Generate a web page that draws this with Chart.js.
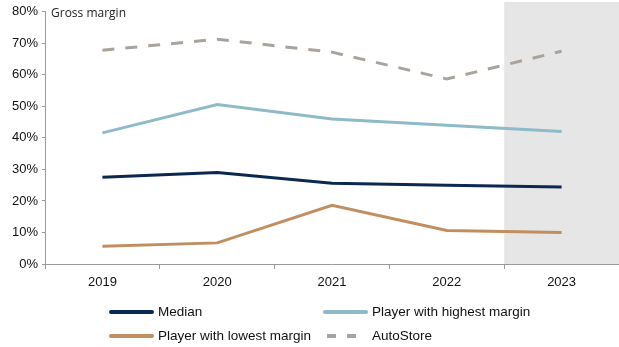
<!DOCTYPE html>
<html>
<head>
<meta charset="utf-8">
<script src="https://cdn.jsdelivr.net/npm/chart.js@4/dist/chart.umd.min.js"></script>
<style>
  html, body { margin: 0; padding: 0; background: #fff; }
  #wrap { width: 619px; height: 347px; position: relative; }
</style>
</head>
<body>
<div id="wrap"><canvas id="marginChart"></canvas></div>
<script>
const years = ['2019', '2020', '2021', '2022', '2023'];
const medianValues = [27.5, 29.0, 25.6, 25.0, 24.4];
const highestValues = [41.6, 50.6, 46.0, 44.0, 42.0];
const lowestValues = [5.6, 6.7, 18.6, 10.6, 10.0];
const autoStoreValues = [67.8, 71.3, 67.2, 58.7, 67.5];
const yTicks = [0, 10, 20, 30, 40, 50, 60, 70, 80];

const baseFont = { family: '"Liberation Sans", Arial, sans-serif', size: 13 };

// grey band behind the last year + the "Gross margin" caption
const shadePlugin = {
    id: 'shade',
    beforeDatasetsDraw(chart) {
        const ctx = chart.ctx;
        const x = chart.scales.x;
        const area = chart.chartArea;
        const half = (x.getPixelForValue(1) - x.getPixelForValue(0)) / 2;
        const left = x.getPixelForValue(4) - half;
        ctx.save();
        ctx.fillStyle = '#e6e6e6';
        ctx.fillRect(left, 2, area.right - left, area.bottom - 2);
        ctx.restore();
    },
    afterDraw(chart) {
        const ctx = chart.ctx;
        ctx.save();
        ctx.fillStyle = '#222';
        ctx.font = '12px "Open Sans", sans-serif';
        ctx.textBaseline = 'middle';
        ctx.fillText('Gross margin', chart.chartArea.left + 6, 14);

        // legend, two columns
        const items = chart.data.datasets;
        const cols = [109, 323];
        const rows = [312, 336];
        ctx.font = '13.5px "Liberation Sans", Arial, sans-serif';
        items.forEach(function(ds, i) {
            const lx = cols[i % 2];
            const ly = rows[Math.floor(i / 2)];
            ctx.strokeStyle = ds.borderColor;
            ctx.lineWidth = 4;
            ctx.beginPath();
            if (ds.borderDash) {
                ctx.lineCap = 'butt';
                ctx.setLineDash([9, 11]);
                ctx.moveTo(lx + 4, ly);
                ctx.lineTo(lx + 36, ly);
            } else {
                ctx.lineCap = 'round';
                ctx.setLineDash([]);
                ctx.moveTo(lx + 2, ly);
                ctx.lineTo(lx + 43, ly);
            }
            ctx.stroke();
            ctx.setLineDash([]);
            ctx.fillStyle = '#111';
            ctx.fillText(ds.label, lx + 49, ly);
        });
        ctx.restore();
    }
};

const ctx = document.getElementById('marginChart').getContext('2d');
new Chart(ctx, {
    type: 'line',
    data: {
        labels: years,
        datasets: [
            { label: 'Median', data: medianValues, borderColor: '#0b2850' },
            { label: 'Player with highest margin', data: highestValues, borderColor: '#8ebac9' },
            { label: 'Player with lowest margin', data: lowestValues, borderColor: '#c18e60' },
            { label: 'AutoStore', data: autoStoreValues, borderColor: '#aaa39c', borderDash: [12, 11] }
        ].map(function(ds) {
            return Object.assign({ borderWidth: 3, pointRadius: 0, tension: 0, fill: false }, ds);
        })
    },
    options: {
        responsive: true,
        maintainAspectRatio: false,
        animation: false,
        layout: { padding: { top: 8, right: 0, bottom: 55, left: 0 } },
        plugins: { legend: { display: false }, tooltip: { enabled: false } },
        scales: {
            x: {
                offset: true,
                grid: { display: true, drawOnChartArea: false, offset: true, tickLength: 5, color: '#9a9a9a' },
                border: { color: '#9a9a9a', width: 1 },
                ticks: { color: '#111', font: baseFont, padding: 6, maxRotation: 0 },
                afterFit(scale) { scale.height = 28; }
            },
            y: {
                min: 0,
                max: 80,
                afterBuildTicks(scale) { scale.ticks = yTicks.map(function(v) { return { value: v }; }); },
                grid: { display: true, drawOnChartArea: false, tickLength: 3, color: '#9a9a9a' },
                border: { color: '#9a9a9a', width: 1 },
                ticks: { color: '#111', font: baseFont, padding: 4, callback: function(v) { return v + '%'; } },
                afterFit(scale) { scale.width = 45; }
            }
        }
    },
    plugins: [shadePlugin]
});
</script>
</body>
</html>
